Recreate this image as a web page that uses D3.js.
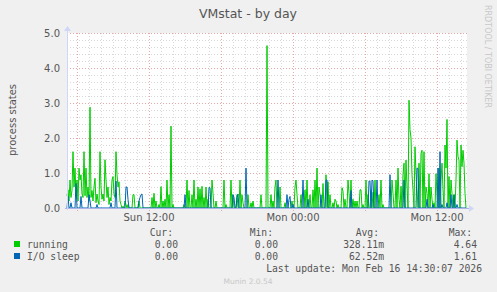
<!DOCTYPE html>
<html>
<head>
<meta charset="utf-8">
<script src="https://cdn.jsdelivr.net/npm/d3@7/dist/d3.min.js"></script>
<style>
body { margin: 0; background: #f0f0f0; }
svg { display: block; font-family: "DejaVu Sans", sans-serif; }
.mono { font-family: "DejaVu Sans Mono", monospace; }
</style>
</head>
<body>
<svg width="497" height="292"></svg>
<script>
// 5 minute samples, index 0 = Sun 05:10, 400 samples; unlisted samples read as 0
var runningPts = [
  [0,0.35],[1,0.52],[2,0.2],[3,0.8],[4,0.3],[5,0.5],[6,1.61],[7,0.6],[8,1.14],[9,0.35],
  [10,0.8],[11,0.2],[12,1.14],[13,0.8],[14,0.95],[15,0.4],[16,0.3],[17,1.61],[18,0.35],[19,1.14],
  [20,0.3],[21,0.6],[22,0.2],[23,2.88],[24,0.3],[25,0.5],[26,0.2],[27,0.6],[28,0.85],[29,0.15],
  [30,0.4],[31,0.2],[32,0.1],[33,1.61],[34,0.6],[35,0.25],[36,0.4],[37,0.2],[38,1.38],[39,0.8],
  [40,0.3],[41,0.6],[42,0.1],[43,0.3],[44,0.2],[45,0.8],[46,0.9],[47,0.4],[48,0.3],[49,1.61],
  [50,0.95],[51,0.6],[52,0.75],[53,0.2],[54,0.1],[56,0.05],[58,0.2],[59,0.1],[61,0.1],
  [66,0.38],[67,0.38],[72,0.2],[85,0.3],[87,0.42],[89,0.2],[92,0.1],[94,0.61],[96,0.2],
  [98,0.25],[100,0.8],[102,0.38],[104,2.34],[106,0.1],[117,0.1],[120,0.8],[122,0.5],[125,0.38],
  [127,0.8],[129,0.25],[131,0.6],[133,0.55],[135,0.62],[137,0.3],[139,0.6],[141,0.25],[145,0.8],
  [146,0.42],[149,0.2],[157,0.8],[159,0.1],[164,0.8],[166,0.38],[170,0.38],[173,0.8],[175,0.38],
  [176,0.15],[181,0.38],[184,0.15],[186,0.2],[194,0.38],[200,4.64],[204,0.38],[206,0.2],
  [208,0.6],[209,0.8],[213,0.6],[218,0.15],[225,0.2],[228,0.6],[229,0.8],[230,0.38],[234,0.38],
  [238,0.52],[240,0.8],[243,0.38],[246,0.52],[248,0.8],[250,1.14],[252,0.6],[253,0.38],[256,0.7],
  [259,0.95],[261,0.75],[263,0.38],[266,0.15],[268,0.25],[269,0.2],[271,0.1],[275,0.58],
  [276,0.48],[278,0.25],[281,0.8],[282,0.42],[284,0.8],[286,0.25],[288,0.2],[290,0.2],[293,0.52],
  [294,0.52],[296,0.1],[299,0.8],[301,0.38],[304,0.52],[306,0.45],[308,0.8],[312,0.38],[314,0.8],
  [316,0.1],[325,0.8],[326,0.42],[329,0.8],[331,1.14],[332,0.25],[334,0.62],[336,0.95],[337,1.28],
  [339,1.37],[340,0.6],[342,3.08],[343,2.24],[344,2.0],[345,0.95],[346,0.52],[348,1.75],[349,1.0],
  [350,0.52],[352,1.28],[354,1.56],[355,1.65],[357,1.61],[359,0.6],[360,0.42],[362,0.98],[364,0.6],
  [365,0.25],[367,0.15],[369,0.98],[370,0.42],[372,1.14],[374,0.8],[375,1.28],[376,0.52],[378,1.8],
  [379,1.14],[380,2.53],[382,0.9],[384,0.8],[385,0.42],[387,0.38],[389,0.8],[390,1.94],[391,1.47],
  [392,1.37],[394,1.8],[395,1.18],[396,1.65],[397,1.28],[398,0.42]
];
var ioSleepPts = [
  [1,0.33],[4,0.15],[9,0.7],[14,0.33],[22,0.38],[23,0.2],[30,0.1],[44,0.15],[49,0.77],[59,0.6],
  [60,0.6],[61,0.25],[72,0.2],[73,0.3],[74,0.38],[75,0.4],[118,0.38],[142,0.58],[143,0.58],
  [166,0.38],[167,0.3],[170,0.3],[171,0.4],[179,1.14],[211,0.8],[220,0.38],[222,0.25],[223,0.33],
  [226,0.1],[236,0.8],[241,0.25],[254,0.38],[259,0.8],[260,0.8],[284,0.5],[302,0.77],[303,0.77],
  [305,0.8],[306,0.77],[310,0.8],[323,0.95],[337,0.8],[350,1.14],[351,1.13],[360,0.25],[366,0.1],
  [371,1.14],[373,1.61],[375,0.1],[380,0.15],[384,0.38],[387,0.38],[390,0.1]
];
var legendNames = ["running", "I/O sleep"];
var legendColors = ["#00cc00", "#0066b3"];
var legendHeads = ["Cur:", "Min:", "Avg:", "Max:"];
var legendStats = [["0.00", "0.00", "328.11m", "4.64"], ["0.00", "0.00", "62.52m", "1.61"]];
var yTicks = [0, 1, 2, 3, 4, 5];

var nSamples = 400,
    start = new Date(2026, 1, 15, 5, 10),
    end = new Date(start.getTime() + nSamples * 300000);

function fullSeries(pts) {
    var m = new Map(pts);
    return d3.range(nSamples).map(i => ({t: new Date(start.getTime() + i * 300000), v: m.get(i) || 0}));
}

var svg = d3.select("svg"),
    pL = 67, pR = 467, pT = 33, pB = 208;

var x = d3.scaleTime().domain([start, end]).range([pL, pR]);
var y = d3.scaleLinear().domain([0, 5]).range([pB, pT]);

svg.append("rect").attr("x", pL).attr("y", pT).attr("width", pR - pL).attr("height", pB - pT).attr("fill", "#fff");

// minor grid
var grid = svg.append("g").attr("shape-rendering", "crispEdges");
grid.selectAll(".hm").data(d3.range(0, 5.01, 0.2).filter(v => Math.abs(v - Math.round(v)) > 0.01))
    .enter().append("line")
    .attr("x1", pL).attr("x2", pR)
    .attr("y1", d => Math.round(y(d)) + 0.5).attr("y2", d => Math.round(y(d)) + 0.5)
    .attr("stroke", "#d8d8d8").attr("stroke-dasharray", "1,2");
grid.selectAll(".vm").data(d3.timeHour.range(start, end).filter(d => d.getHours() % 6 != 0))
    .enter().append("line")
    .attr("x1", d => Math.round(x(d)) + 0.5).attr("x2", d => Math.round(x(d)) + 0.5)
    .attr("y1", pT).attr("y2", pB)
    .attr("stroke", "#d8d8d8").attr("stroke-dasharray", "1,2");
// major grid
grid.selectAll(".hM").data(yTicks.slice(1))
    .enter().append("line")
    .attr("x1", pL).attr("x2", pR)
    .attr("y1", d => Math.round(y(d)) + 0.5).attr("y2", d => Math.round(y(d)) + 0.5)
    .attr("stroke", "#e8a8a8").attr("stroke-dasharray", "1,2");
grid.selectAll(".vM").data(d3.timeHour.range(start, end).filter(d => d.getHours() % 6 == 0))
    .enter().append("line")
    .attr("x1", d => Math.round(x(d)) + 0.5).attr("x2", d => Math.round(x(d)) + 0.5)
    .attr("y1", pT).attr("y2", pB + 3)
    .attr("stroke", "#e8a8a8").attr("stroke-dasharray", "1,2");

// series
var line = d3.line().x(d => x(d.t)).y(d => y(d.v));
[runningPts, ioSleepPts].forEach((pts, i) => {
    svg.append("path").datum(fullSeries(pts))
        .attr("d", line).attr("fill", "none")
        .attr("stroke", legendColors[i]).attr("stroke-width", 1);
});

// axes
svg.append("line").attr("x1", pL - 2).attr("x2", pR + 2).attr("y1", pB + 0.5).attr("y2", pB + 0.5)
    .attr("stroke", "#aab4e8").attr("shape-rendering", "crispEdges");
svg.append("line").attr("x1", pL + 0.5).attr("x2", pL + 0.5).attr("y1", pT - 3).attr("y2", pB + 2)
    .attr("stroke", "#cfd6f8").attr("shape-rendering", "crispEdges");
svg.append("path").attr("d", `M${pR + 2},${pB - 3}L${pR + 7},${pB + 0.5}L${pR + 2},${pB + 4}Z`).attr("fill", "#cfd6f8");
svg.append("path").attr("d", `M${pL - 3},${pT - 2}L${pL + 0.5},${pT - 7}L${pL + 4},${pT - 2}Z`).attr("fill", "#cfd6f8");

// y tick labels
svg.selectAll(".yl").data(yTicks).enter().append("text")
    .attr("x", 60).attr("y", d => y(d) + 3.5)
    .attr("text-anchor", "end").attr("font-size", 10).attr("fill", "#555")
    .text(d => d.toFixed(1));

// x tick labels
svg.selectAll(".xl").data(d3.timeHour.range(start, end).filter(d => d.getHours() % 12 == 0))
    .enter().append("text")
    .attr("x", d => x(d)).attr("y", 221)
    .attr("text-anchor", "middle").attr("font-size", 10).attr("fill", "#555")
    .text(d3.timeFormat("%a %H:%M"));

// titles
svg.append("text").attr("x", 248).attr("y", 18).attr("text-anchor", "middle")
    .attr("font-size", 12.5).attr("fill", "#555").text("VMstat - by day");
svg.append("text").attr("transform", "translate(16,120) rotate(-90)").attr("text-anchor", "middle")
    .attr("font-size", 10).attr("fill", "#555").text("process states");
svg.append("text").attr("transform", "translate(485,5) rotate(90)")
    .attr("font-size", 8).attr("fill", "#c8c8c8").text("RRDTOOL / TOBI OETIKER");

// legend
var colRight = [178, 278, 384, 477];
var lg = svg.append("g").attr("class", "mono").attr("font-size", 9.7).attr("fill", "#555");
lg.selectAll(".h").data(legendHeads).enter().append("text")
    .attr("x", (d, i) => colRight[i] - 5).attr("y", 236).attr("text-anchor", "end").text(d => d);
legendNames.forEach((name, r) => {
    var yy = 248 + r * 12;
    lg.append("rect").attr("x", 14).attr("y", yy - 7).attr("width", 6).attr("height", 6).attr("fill", legendColors[r]);
    lg.append("text").attr("x", 27).attr("y", yy).text(name);
    lg.selectAll(".s" + r).data(legendStats[r]).enter().append("text")
        .attr("x", (d, i) => colRight[i]).attr("y", yy).attr("text-anchor", "end").text(d => d);
});
lg.append("text").attr("x", 482).attr("y", 272).attr("text-anchor", "end").text("Last update: Mon Feb 16 14:30:07 2026");
svg.append("text").attr("x", 248).attr("y", 284).attr("text-anchor", "middle")
    .attr("font-size", 7.5).attr("fill", "#c8c8c8").text("Munin 2.0.54");
</script>
</body>
</html>
